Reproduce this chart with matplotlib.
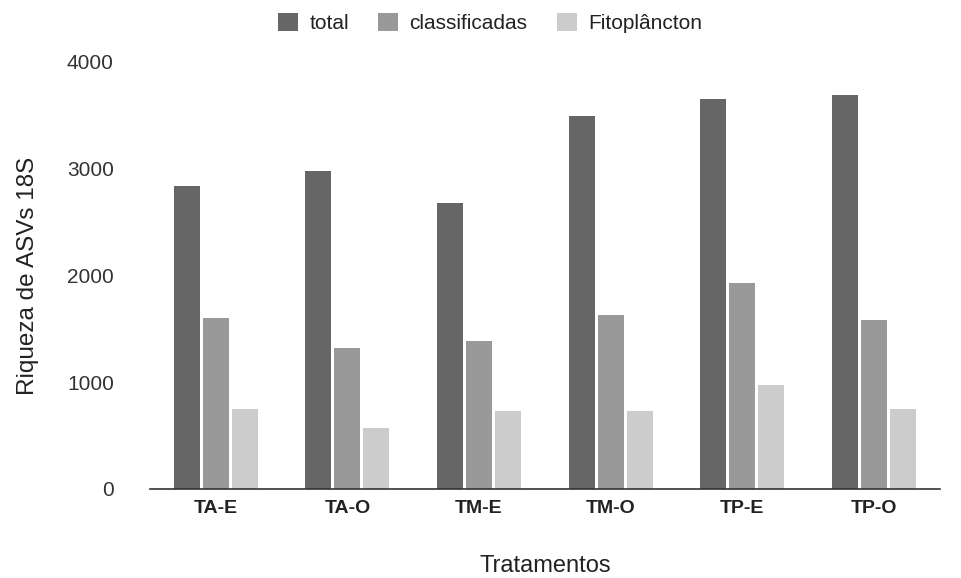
import numpy as np
import matplotlib.pyplot as plt
from matplotlib.patches import Patch

plt.rcParams['font.family'] = ['Liberation Sans', 'DejaVu Sans']

tratamentos = ["TA-E", "TA-O", "TM-E", "TM-O", "TP-E", "TP-O"]
total = [2840, 2980, 2680, 3490, 3650, 3685]
classificadas = [1600, 1320, 1390, 1625, 1930, 1580]
fitoplancton = [750, 575, 735, 735, 975, 750]

series = [("total", total, "#666666"),
          ("classificadas", classificadas, "#999999"),
          ("Fitoplâncton", fitoplancton, "#cccccc")]

fig = plt.figure(figsize=(9.61, 5.78), dpi=100)
ax = fig.add_axes([0.156, 0.154, 0.822, 0.739])

x = np.arange(len(tratamentos))
w = 0.197
offs = [-0.22, 0, 0.22]
for (nome, vals, cor), o in zip(series, offs):
    ax.bar(x + o, vals, width=w, color=cor, label=nome)

ax.set_xlim(-0.5, len(tratamentos) - 0.5)
ax.set_ylim(0, 4000)
ax.set_yticks([0, 1000, 2000, 3000, 4000])
ax.set_xticks(x)
ax.set_xticklabels(tratamentos, fontweight="bold", fontsize=14, color="#222222")
ax.tick_params(axis="y", labelsize=15, colors="#333333", length=0, pad=26)
ax.tick_params(axis="x", length=0, pad=8)
for s in ["top", "right", "left"]:
    ax.spines[s].set_visible(False)
ax.spines["bottom"].set_color("#333333")
ax.spines["bottom"].set_linewidth(1.2)

ax.set_ylabel("Riqueza de ASVs 18S", fontsize=17.5, color="#222222", labelpad=20)
ax.set_xlabel("Tratamentos", fontsize=17, color="#222222", labelpad=27)

handles = [Patch(facecolor=c, edgecolor="none", label=n) for n, _, c in series]
fig.legend(handles=handles, loc="upper center", bbox_to_anchor=(0.51, 1.01),
           ncol=3, frameon=False, fontsize=15, handlelength=0.95, handleheight=0.95,
           columnspacing=1.4, handletextpad=0.55, labelcolor="#222222")

fig.savefig("out.png", dpi=100, facecolor="white")
